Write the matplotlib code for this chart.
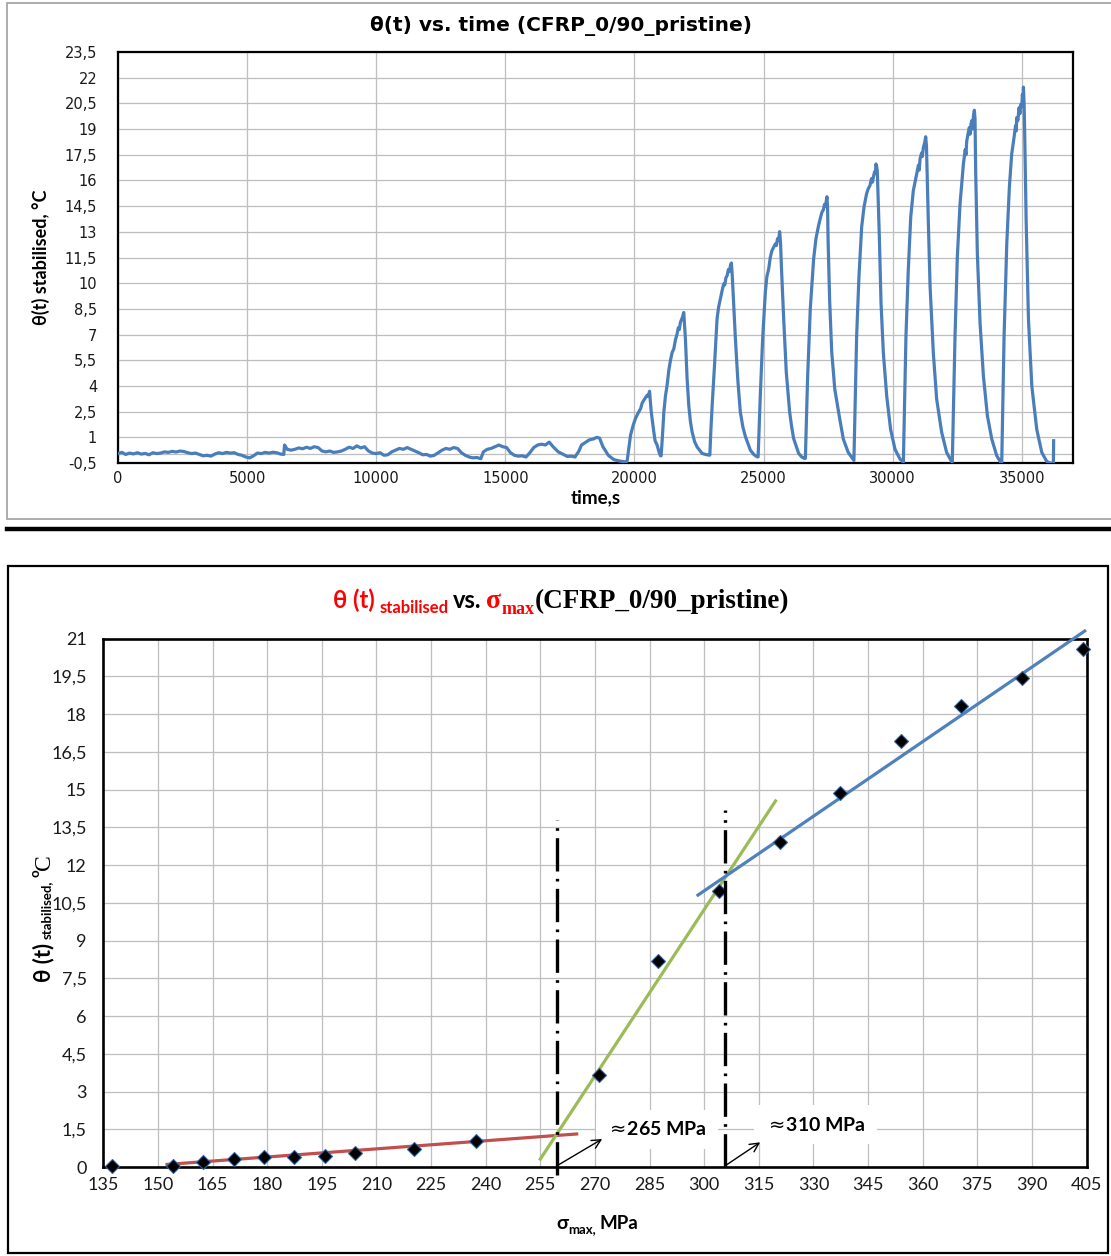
import numpy as np
import matplotlib
matplotlib.use("Agg")
import matplotlib.pyplot as plt
from matplotlib.patches import Rectangle
from matplotlib.lines import Line2D
from matplotlib.ticker import FixedLocator, FuncFormatter

# ---- top chart: theta(t) vs time ----
base_t = [0, 150, 300, 450, 600, 750, 900, 1050, 1200, 1350, 1500, 1650, 1800, 1950, 2100,
          2250, 2400, 2550, 2700, 2850, 3000, 3150, 3300, 3450, 3600, 3750, 3900, 4050, 4200,
          4350, 4500, 4650, 4800, 4950, 5100, 5250, 5400, 5550, 5700, 5850, 6000, 6150, 6300,
          6420, 6450, 6550, 6700, 6850, 7000, 7150, 7300, 7450, 7600, 7750, 7900, 8050, 8200,
          8350, 8500, 8650, 8800, 8950, 9100, 9250, 9400, 9550, 9700, 9850, 10000, 10150, 10300,
          10450, 10600, 10750, 10900, 11050, 11200, 11350, 11500, 11650, 11800, 11950, 12100,
          12250, 12400, 12550, 12700, 12850, 13000, 13150, 13300, 13450, 13600, 13750, 13900,
          14050, 14150, 14300, 14450, 14600, 14750, 14900, 15050, 15200, 15350, 15500, 15650,
          15800, 15950, 16100, 16250, 16400, 16550, 16700, 16850, 17050, 17250, 17400, 17550,
          17700, 17850, 17950, 18100, 18250, 18400, 18550, 18650, 18780, 18990, 19200, 19400,
          19600, 19680]
base_v = [0.05, 0.12, 0.0, 0.08, 0.03, 0.1, 0.02, 0.06, -0.02, 0.1, 0.05, 0.08, 0.15, 0.12, 0.18,
          0.14, 0.2, 0.17, 0.1, 0.05, 0.08, 0.0, -0.08, -0.05, -0.1, 0.02, 0.1, 0.05, 0.12,
          0.08, 0.1, 0.0, -0.05, -0.15, -0.2, -0.08, 0.08, 0.05, 0.12, 0.08, 0.13, 0.1, 0.02,
          0.0, 0.55, 0.3, 0.25, 0.3, 0.38, 0.33, 0.42, 0.35, 0.45, 0.4, 0.2, 0.15, 0.2,
          0.12, 0.15, 0.2, 0.3, 0.42, 0.35, 0.5, 0.38, 0.45, 0.2, 0.08, 0.05, 0.1, -0.05,
          -0.02, 0.15, 0.25, 0.35, 0.3, 0.4, 0.3, 0.2, 0.1, -0.02, 0.0, -0.1,
          -0.05, 0.1, 0.25, 0.35, 0.3, 0.4, 0.35, 0.1, -0.05, -0.15, -0.2, -0.18,
          -0.25, 0.15, 0.3, 0.35, 0.45, 0.55, 0.45, 0.4, 0.1, -0.05, -0.1, -0.08,
          -0.15, 0.1, 0.4, 0.55, 0.6, 0.55, 0.72, 0.45, 0.15, 0.0, -0.12, -0.1,
          -0.15, 0.2, 0.55, 0.7, 0.85, 0.9, 1.0, 0.95, 0.45, -0.05, -0.3, -0.38,
          -0.42, -0.45]

cyc1_t = [19720, 19850, 19950, 20040, 20120, 20240, 20300, 20365, 20420, 20495, 20540, 20585,
          20650, 20750, 20800, 20880, 20960, 21010]
cyc1_v = [-0.35, 1.13, 1.7, 2.1, 2.35, 2.68, 3.0, 3.17, 3.3, 3.46, 3.4, 3.69,
          2.49, 1.32, 0.8, 0.54, 0.1, -0.08]

cyc2_t = [21035, 21090, 21140, 21200, 21265, 21330, 21395, 21460, 21525, 21590, 21650, 21700,
          21740, 21780, 21830, 21870, 21910, 21940, 21975, 22040, 22105, 22170, 22235, 22330,
          22430, 22620, 22750, 22880]
cyc2_v = [-0.08, 1.2, 2.49, 3.4, 4.04, 4.9, 5.49, 5.95, 6.17, 6.7, 7.03, 7.4,
          7.3, 7.71, 7.9, 8.05, 8.29, 7.6, 6.74, 4.41, 2.85, 1.9, 1.3, 0.75,
          0.43, 0.06, 0.0, -0.04]

cyc3_t = [22920, 22960, 23010, 23100, 23200, 23260, 23330, 23400, 23460, 23500, 23540, 23590,
          23640, 23680, 23720, 23755, 23790, 23820, 23910, 24000, 24100, 24200, 24300, 24490,
          24620, 24750]
cyc3_v = [-0.04, 1.4, 2.85, 5.17, 7.92, 8.6, 9.09, 9.6, 9.96, 9.9, 10.3, 10.45,
          10.8, 10.7, 11.05, 11.18, 10.4, 9.48, 6.76, 4.43, 2.49, 1.6, 1.03, 0.25,
          0.0, -0.14]

cyc4_t = [24790, 24875, 24965, 25070, 25130, 25200, 25260, 25325, 25390, 25455, 25500, 25540,
          25580, 25625, 25660, 25690, 25780, 25880, 26010, 26090, 26165, 26360, 26480, 26580]
cyc4_v = [-0.14, 3.46, 6.76, 9.48, 10.4, 10.83, 11.5, 11.9, 12.1, 12.29, 12.2, 12.6,
          12.5, 13.01, 12.3, 11.03, 7.92, 4.82, 2.49, 1.6, 0.93, 0.06, -0.15, -0.23]

cyc5_t = [26620, 26705, 26810, 26940, 27030, 27130, 27200, 27260, 27320, 27360, 27400, 27455,
          27480, 27500, 27560, 27640, 27760, 27960, 28090, 28280, 28475]
cyc5_v = [-0.23, 4.43, 8.5, 11.42, 12.6, 13.36, 13.8, 14.14, 14.3, 14.6, 14.5, 15.05,
          14.4, 12.5, 9.0, 6.0, 3.8, 2.0, 0.89, 0.12, -0.3]

cyc6_t = [28500, 28605, 28695, 28800, 28890, 28990, 29050, 29120, 29180, 29220, 29250, 29300,
          29330, 29355, 29380, 29405, 29485, 29550, 29640, 29770, 29920, 30090, 30285, 30390]
cyc6_v = [-0.35, 6.89, 10.38, 13.28, 14.44, 15.22, 15.5, 15.7, 16.1, 15.9, 16.18, 16.5,
          16.4, 16.96, 16.8, 16.57, 12.7, 8.83, 5.93, 3.41, 1.47, 0.31, -0.27, -0.42]

cyc7_t = [30415, 30515, 30605, 30700, 30800, 30930, 31000, 31030, 31060, 31120, 31150, 31190,
          31240, 31280, 31310, 31380, 31450, 31575, 31705, 31900, 32090, 32285]
cyc7_v = [-0.45, 6.89, 10.76, 13.86, 15.4, 16.38, 16.9, 16.6, 17.25, 17.6, 17.4, 17.92,
          18.2, 18.55, 18.0, 13.67, 9.8, 5.93, 3.22, 1.28, 0.12, -0.42]

cyc8_t = [32310, 32415, 32505, 32610, 32740, 32810, 32840, 32870, 32930, 32970, 33000, 33035,
          33070, 33100, 33130, 33165, 33190, 33215, 33280, 33385, 33515, 33670, 33840, 34030,
          34185]
cyc8_v = [-0.45, 6.89, 11.54, 14.63, 16.96, 17.8, 17.5, 18.31, 18.8, 19.09, 18.7, 19.3,
          19.5, 19.0, 19.8, 20.1, 19.6, 16.57, 11.73, 7.67, 4.57, 2.25, 0.89, -0.07,
          -0.46]

cyc9_t = [34225, 34315, 34420, 34520, 34610, 34700, 34760, 34790, 34805, 34850, 34895, 34930,
          34960, 35000, 35025, 35045, 35065, 35090, 35105, 35170, 35260, 35390, 35580, 35775,
          35970, 36100, 36225, 36235]
cyc9_v = [-0.46, 6.89, 12.31, 15.6, 17.54, 18.5, 19.2, 18.9, 19.67, 19.5, 20.25, 19.9,
          20.44, 20.3, 21.02, 20.6, 21.45, 20.5, 19.47, 13.67, 7.86, 3.99, 1.47, 0.12,
          -0.42, -0.5, -0.5, 0.8]

time_s = (base_t + cyc1_t + cyc2_t + cyc3_t + cyc4_t + cyc5_t + cyc6_t + cyc7_t
          + cyc8_t + cyc9_t)
theta_t = (base_v + cyc1_v + cyc2_v + cyc3_v + cyc4_v + cyc5_v + cyc6_v + cyc7_v
           + cyc8_v + cyc9_v)

# ---- bottom chart: theta stabilised vs sigma_max ----
sigma_max = [137.5, 154.2, 162.5, 170.8, 179.2, 187.5, 195.8, 204.0, 220.2, 237.4,
             271.0, 287.3, 304.2, 320.8, 337.4, 354.0, 370.6, 387.4, 404.0]
theta_stab = [0.05, 0.05, 0.2, 0.32, 0.41, 0.41, 0.44, 0.58, 0.71, 1.06,
              3.67, 8.2, 10.98, 12.93, 14.87, 16.93, 18.34, 19.42, 20.6]

red_x, red_y = [152.5, 265.0], [0.11, 1.32]
green_x, green_y = [255.0, 319.6], [0.32, 14.55]
blue_x, blue_y = [298.3, 404.5], [10.81, 21.3]

knee_x = [259.5, 305.7]
knee_top = [13.8, 14.2]
knee_bottom = [-0.3, 0.0]
knee_labels = [r"$\approx\!$265 MPa", r"$\approx\!$310 MPa"]
knee_label_x = [287.0, 330.6]
knee_label_y = [1.5, 1.69]
arrow_tip_x = [272.0, 315.4]
arrow_tip_y = [1.12, 0.99]

W_PX, H_PX = 1111, 1256
GRID = "#BEBEBE"
SANS = ["Lato", "DejaVu Sans"]
SERIF = ["Liberation Serif", "DejaVu Serif"]


def comma(v, pos=None):
    s = ("%.1f" % v).rstrip("0").rstrip(".")
    return s.replace(".", ",")


def fx(px):
    return px / W_PX


def fy(px):
    return 1 - px / H_PX


def rich_text(fig, x_px, y_px, parts, vertical=False):
    # parts: (text, props, baseline shift px (+ = down), gap px after)
    r = fig.canvas.get_renderer()
    pos = y_px if vertical else x_px
    for s, props, shift, gap in parts:
        if vertical:
            t = fig.text(fx(x_px + shift), fy(pos), s, ha="left", va="baseline",
                         rotation=90, rotation_mode="anchor", **props)
            pos -= t.get_window_extent(r).height + gap
        else:
            t = fig.text(fx(pos), fy(y_px + shift), s, ha="left", va="baseline", **props)
            pos += t.get_window_extent(r).width + gap


fig = plt.figure(figsize=(W_PX / 100, H_PX / 100), dpi=100)

# frames
fig.add_artist(Rectangle((fx(7), fy(519)), fx(1112) - fx(7), fy(3) - fy(519),
                         transform=fig.transFigure, fill=False, edgecolor="#A6A6A6",
                         lw=1.3, clip_on=False))
fig.add_artist(Line2D([fx(7), 1.0], [fy(528.5), fy(528.5)], transform=fig.transFigure,
                      color="black", lw=3.2))
fig.add_artist(Rectangle((fx(8), fy(1253)), fx(1108) - fx(8), fy(566) - fy(1253),
                         transform=fig.transFigure, fill=False, edgecolor="black", lw=1.6))

# ---------------- top chart ----------------
ax1 = fig.add_axes([fx(118), fy(463), fx(1073.4) - fx(118), fy(52) - fy(463)])
ax1.plot(time_s, theta_t, color="#4A7EBB", lw=2.3, zorder=3)
ax1.axhline(0, color=GRID, lw=0.9, zorder=1)
ax1.set_xlim(0, 37000)
ax1.set_ylim(-0.5, 23.5)
ax1.xaxis.set_major_locator(FixedLocator(np.arange(0, 36000, 5000)))
ax1.yaxis.set_major_locator(FixedLocator(np.arange(-0.5, 23.6, 1.5)))
ax1.yaxis.set_major_formatter(FuncFormatter(comma))
ax1.xaxis.set_major_formatter(FuncFormatter(lambda v, p: "%d" % v))
ax1.grid(True, color=GRID, lw=0.9, zorder=0)
ax1.set_axisbelow(True)
for sp in ax1.spines.values():
    sp.set_linewidth(1.6)
ax1.tick_params(length=0, labelsize=10.5, colors="#1a1a1a")
ax1.tick_params(axis="y", pad=15)
ax1.tick_params(axis="x", pad=6)

fig.text(fx(561), fy(31), "θ(t) vs. time (CFRP_0/90_pristine)", ha="center",
         va="baseline", fontsize=14.5, fontweight="bold", family="DejaVu Sans")
fig.text(fx(41), fy(257), "θ(t) stabilised, °C", rotation=90, ha="center", va="center",
         fontsize=13, fontweight="bold", family=SANS)
fig.text(fx(596), fy(498), "time,s", ha="center", va="center",
         fontsize=13.5, fontweight="bold", family=SANS)

# ---------------- bottom chart ----------------
ax2 = fig.add_axes([fx(103.3), fy(1167.2), fx(1086.5) - fx(103.3), fy(638.6) - fy(1167.2)])
ax2.set_xlim(135, 405)
ax2.set_ylim(0, 21)
ax2.xaxis.set_major_locator(FixedLocator(np.arange(135, 406, 15)))
ax2.yaxis.set_major_locator(FixedLocator(np.arange(0, 21.1, 1.5)))
ax2.yaxis.set_major_formatter(FuncFormatter(comma))
ax2.grid(True, color=GRID, lw=0.9, zorder=0)
ax2.set_axisbelow(True)
for sp in ax2.spines.values():
    sp.set_linewidth(1.9)
ax2.tick_params(length=0, labelsize=13, colors="#1a1a1a")
ax2.tick_params(axis="y", pad=12)
ax2.tick_params(axis="x", pad=7)
for lab in ax2.get_xticklabels() + ax2.get_yticklabels():
    lab.set_family(SANS)

ax2.plot(red_x, red_y, color="#C0504D", lw=2.3, zorder=3)
ax2.plot(green_x, green_y, color="#9BBB59", lw=2.3, zorder=3)
ax2.plot(blue_x, blue_y, color="#4F81BD", lw=2.3, zorder=3, clip_on=False)
ax2.plot(sigma_max, theta_stab, ls="none", marker="D", ms=7, mfc="black",
         mec="#2F5F9E", mew=0.8, zorder=4, clip_on=False)

for i in range(len(knee_x)):
    ax2.text(knee_label_x[i], knee_label_y[i], knee_labels[i], ha="center", va="center",
             fontsize=14, fontweight="bold", family=SANS, zorder=4.5,
             bbox=dict(boxstyle="square,pad=0.55", fc="white", ec="none"))
    ax2.plot([knee_x[i], knee_x[i]], [knee_bottom[i], knee_top[i]], color="black", lw=2.4,
             dashes=(10, 2.2, 0.8, 2.2), zorder=5, clip_on=False)
    ax2.annotate("", xy=(arrow_tip_x[i], arrow_tip_y[i]), xytext=(knee_x[i], 0.05),
                 arrowprops=dict(arrowstyle="->", color="black", lw=1.0,
                                 shrinkA=0, shrinkB=0, mutation_scale=16), zorder=6)

red = "#FF0000"
rich_text(fig, 333, 608, [
    ("θ (t)", dict(color=red, fontsize=17, fontweight="bold", family=SANS), 0, 5),
    ("stabilised", dict(color=red, fontsize=12, fontweight="bold", family=SANS), 5, 4),
    ("vs.", dict(color="black", fontsize=17, fontweight="bold", family=SANS), 0, 5),
    ("σ", dict(color=red, fontsize=20, fontweight="bold", family=SERIF), 0, 0),
    ("max", dict(color=red, fontsize=13, fontweight="bold", family=SERIF), 6, 0),
    ("(CFRP_0/90_pristine)", dict(color="black", fontsize=19.5, fontweight="bold",
                                  family=SERIF), 0, 0),
])

rich_text(fig, 50, 982, [
    ("θ (t)", dict(color="black", fontsize=16, fontweight="bold", family=SANS), 0, 4),
    ("stabilised,", dict(color="black", fontsize=9.5, fontweight="bold", family=SANS), 1, 3),
    ("o", dict(color="black", fontsize=9.5, fontweight="bold", family=SANS), -10, 0),
    ("C", dict(color="black", fontsize=17, family=SERIF), 0, 0),
], vertical=True)

rich_text(fig, 556, 1229, [
    ("σ", dict(color="black", fontsize=14, fontweight="bold", family=SANS), 0, 0),
    ("max,", dict(color="black", fontsize=9.5, fontweight="bold", family=SANS), 4, 4),
    ("MPa", dict(color="black", fontsize=13.5, fontweight="bold", family=SANS), 0, 0),
])

fig.savefig("out.png", dpi=100, facecolor="white")
